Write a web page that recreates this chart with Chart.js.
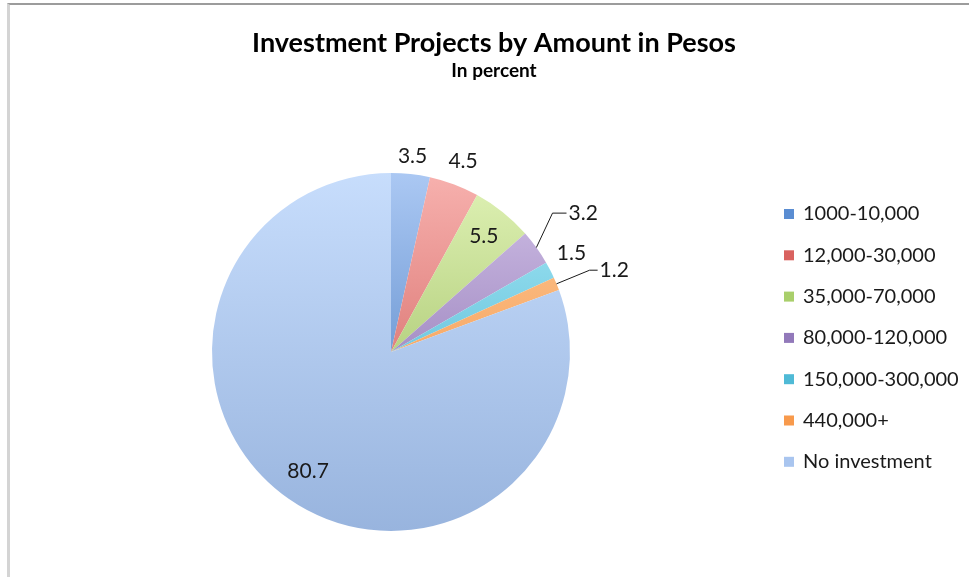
<!DOCTYPE html>
<html>
<head>
<meta charset="utf-8">
<title>Investment Projects by Amount in Pesos</title>
<script src="https://cdn.jsdelivr.net/npm/chart.js@4.4.1/dist/chart.umd.min.js"></script>
<style>
    html, body { margin: 0; padding: 0; background: #fff; }
    #wrap { position: relative; width: 969px; height: 577px; overflow: hidden; }
    #frame { position: absolute; left: 7px; top: 3px; right: -10px; bottom: -10px;
             border-top: 2px solid #9c9c9c; border-left: 3px solid #d4d4d4; pointer-events: none; }
</style>
</head>
<body>
<div id="wrap">
    <canvas id="pieChart" width="969" height="577"></canvas>
    <div id="frame"></div>
</div>
<script>
// data
var chartTitle = "Investment Projects by Amount in Pesos";
var chartSubtitle = "In percent";
var categories = ["1000-10,000", "12,000-30,000", "35,000-70,000", "80,000-120,000",
                  "150,000-300,000", "440,000+", "No investment"];
var percents = [3.5, 4.5, 5.5, 3.2, 1.5, 1.2, 80.7];

// slice colours: light at top of the pie, darker at the bottom (excel-style gradient)
var topColors    = ["#abc8f3", "#f7b1ae", "#e0f2b6", "#d2c2e8", "#a8eaf8", "#fdca98", "#c7ddfc"];
var bottomColors = ["#3f74bb", "#c9504d", "#8fb34f", "#7a5da3", "#3aa7c6", "#f28a38", "#98b4de"];
var legendColors = ["#5a8dd2", "#d9625f", "#a9cf6b", "#9279ba", "#4fbad6", "#f89a4c", "#a9c5ef"];

// where each value label sits: r = fraction of the radius, turn = degrees off the slice middle
var labelSpots = [
    { r: 1.10 },
    { r: 1.14 },
    { r: 0.83 },
    { r: 1.19, turn: -5, leader: 14 },
    { r: 1.15, turn: -1.5 },
    { r: 1.20, leader: 8 },
    { r: 0.81 }
];

var FONT = 'Lato, "Open Sans", sans-serif';

function sliceGradient(context) {
    var chart = context.chart;
    var area = chart.chartArea;
    var i = context.dataIndex;
    if (!area) return bottomColors[i];
    var g = chart.ctx.createLinearGradient(0, area.top, 0, area.bottom);
    g.addColorStop(0, topColors[i]);
    g.addColorStop(1, bottomColors[i]);
    return g;
}

var valueLabels = {
    id: 'valueLabels',
    afterDatasetsDraw: function (chart) {
        var ctx = chart.ctx;
        var meta = chart.getDatasetMeta(0);
        ctx.save();
        ctx.font = '21px ' + FONT;
        ctx.fillStyle = '#1a1a1a';
        ctx.strokeStyle = '#1a1a1a';
        ctx.lineWidth = 1;
        ctx.textBaseline = 'middle';
        meta.data.forEach(function (arc, i) {
            var p = arc.getProps(['x', 'y', 'startAngle', 'endAngle', 'outerRadius'], true);
            var spot = labelSpots[i];
            var mid = (p.startAngle + p.endAngle) / 2;
            var a = mid + (spot.turn || 0) * Math.PI / 180;
            var px = p.x + Math.cos(a) * p.outerRadius * spot.r;
            var py = p.y + Math.sin(a) * p.outerRadius * spot.r;
            var text = percents[i].toFixed(1);
            if (spot.leader) {
                ctx.beginPath();
                ctx.moveTo(p.x + Math.cos(mid) * p.outerRadius, p.y + Math.sin(mid) * p.outerRadius);
                ctx.lineTo(px, py);
                ctx.lineTo(px + spot.leader, py);
                ctx.stroke();
                ctx.textAlign = 'left';
                ctx.fillText(text, px + spot.leader + 2, py);
            } else {
                ctx.textAlign = 'center';
                ctx.fillText(text, px, py);
            }
        });
        ctx.restore();
    }
};

// title and legend drawn by hand: they sit over the whole box, not over the pie area
var headAndLegend = {
    id: 'headAndLegend',
    afterDraw: function (chart, args, opts) {
        var ctx = chart.ctx;
        ctx.save();
        ctx.fillStyle = '#000';
        ctx.textAlign = 'center';
        ctx.textBaseline = 'alphabetic';
        ctx.font = 'bold 27px ' + FONT;
        ctx.fillText(chartTitle, opts.titleX, opts.titleY);
        ctx.font = 'bold 19px ' + FONT;
        ctx.fillText(chartSubtitle, opts.titleX, opts.subtitleY);

        ctx.font = opts.fontSize + 'px ' + FONT;
        ctx.textBaseline = 'middle';
        ctx.textAlign = 'left';
        chart.data.labels.forEach(function (label, i) {
            var y = opts.top + i * opts.step;
            ctx.fillStyle = legendColors[i];
            ctx.fillRect(opts.x, y - opts.box / 2, opts.box, opts.box);
            ctx.fillStyle = '#1a1a1a';
            ctx.fillText(label, opts.x + opts.box + 9, y);
        });
        ctx.restore();
    }
};

var ctx = document.getElementById('pieChart').getContext('2d');
var pieChart = new Chart(ctx, {
    type: 'pie',
    data: {
        labels: categories,
        datasets: [{
            data: percents,
            backgroundColor: sliceGradient,
            borderWidth: 0
        }]
    },
    options: {
        responsive: false,
        animation: false,
        events: [],
        layout: { padding: { left: 12, right: 199, top: 173, bottom: 46 } },
        plugins: {
            legend: { display: false },
            tooltip: { enabled: false },
            headAndLegend: {
                titleX: 494, titleY: 52, subtitleY: 77,
                x: 784, top: 214, step: 41.3, box: 10, fontSize: 20
            }
        }
    },
    plugins: [valueLabels, headAndLegend]
});
</script>
</body>
</html>
